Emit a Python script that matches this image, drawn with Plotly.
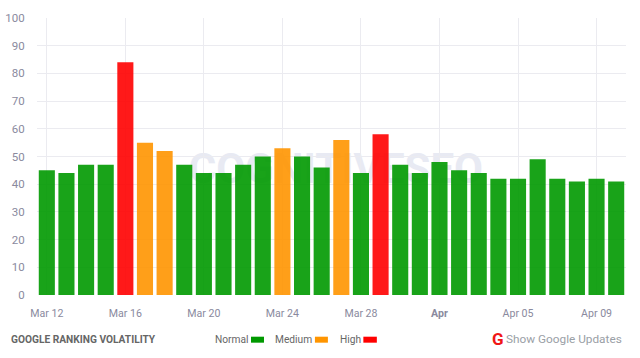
import plotly.graph_objects as go

dates = ["Mar 12","Mar 13","Mar 14","Mar 15","Mar 16","Mar 17","Mar 18","Mar 19","Mar 20","Mar 21",
         "Mar 22","Mar 23","Mar 24","Mar 25","Mar 26","Mar 27","Mar 28","Mar 29","Mar 30","Mar 31",
         "Apr 01","Apr 02","Apr 03","Apr 04","Apr 05","Apr 06","Apr 07","Apr 08","Apr 09","Apr 10"]
values = [45,44,47,47,84,55,52,47,44,44,47,50,53,50,46,56,44,58,47,44,48,45,44,42,42,49,42,41,42,41]
levels = ["N","N","N","N","H","M","M","N","N","N","N","N","M","N","N","M","N","H","N","N",
          "N","N","N","N","N","N","N","N","N","N"]
tick_dates = ["Mar 12","Mar 16","Mar 20","Mar 24","Mar 28","Apr 01","Apr 05","Apr 09"]
tick_labels = ["Mar 12","Mar 16","Mar 20","Mar 24","Mar 28","<b>Apr</b>","Apr 05","Apr 09"]
y_ticks = list(range(0, 101, 10))
palette = {"N": "#009900", "M": "#ff9500", "H": "#ff0000"}

W, H = 640, 358
L, R, T, B = 36.7, 626.5, 17.5, 295.2
FONT = "Roboto"

def px(x): return (x - L) / (R - L)
def py(y): return (B - y) / (B - T)

fig = go.Figure(go.Bar(
    x=dates, y=values,
    marker=dict(color=[palette[l] for l in levels], opacity=0.9, line=dict(width=0)),
    width=0.82, hoverinfo="x+y",
))

annotations = [
    dict(text="<b>GOOGLE RANKING VOLATILITY</b>", x=px(8.5), y=py(339.5), xanchor="left",
         font=dict(family=FONT, size=10.2, color="#666666")),
    dict(text="Normal", x=px(250), y=py(339.5), xanchor="right", font=dict(family=FONT, size=10.2, color="#666666")),
    dict(text="Medium", x=px(314), y=py(339.5), xanchor="right", font=dict(family=FONT, size=10.2, color="#666666")),
    dict(text="High", x=px(363), y=py(339.5), xanchor="right", font=dict(family=FONT, size=10.2, color="#666666")),
    dict(text="<b>G</b>", x=px(498), y=py(339), font=dict(family=FONT, size=17, color="#f01616")),
    dict(text="Show Google Updates", x=px(504.5), y=py(339.5), xanchor="left",
         font=dict(family=FONT, size=11.8, color="#9aa0a6")),
]
for a in annotations:
    a.update(xref="paper", yref="paper", showarrow=False, yanchor="middle")
    a.setdefault("xanchor", "center")

swatches = [(251, 264, "#009900"), (315, 328, "#ff9500"), (363.5, 377, "#ff0000")]
shapes = [dict(type="rect", xref="paper", yref="paper", x0=px(a), x1=px(b), y0=py(343), y1=py(337),
               fillcolor=c, line=dict(width=0), layer="above") for a, b, c in swatches]
shapes.append(dict(type="rect", xref="paper", yref="paper", x0=px(180), x1=px(492), y0=py(188), y1=py(143),
                   fillcolor="rgba(0,0,0,0)", line=dict(width=0), layer="below",
                   label=dict(text="<b>COGNITIVESEO</b>", textposition="middle center",
                              font=dict(family=FONT, size=42, color="#e8eaf3"))))

fig.update_layout(
    width=W, height=H, autosize=False,
    margin=dict(l=L, r=W - R, t=T, b=H - B, autoexpand=False),
    paper_bgcolor="white", plot_bgcolor="white",
    showlegend=False,
    annotations=annotations, shapes=shapes,
    font=dict(family=FONT),
    xaxis=dict(type="category", categoryorder="array", categoryarray=dates,
               tickmode="array", tickvals=tick_dates, ticktext=tick_labels, automargin=False,
               showgrid=True, gridcolor="#ebebf0", gridwidth=1, zeroline=False,
               showline=False, ticks="outside", ticklen=8, tickcolor="rgba(0,0,0,0)",
               tickfont=dict(family=FONT, size=10.6, color="#8a8a9e"), range=[-0.5, 29.5]),
    yaxis=dict(range=[0, 100], tickmode="array", tickvals=y_ticks, automargin=False,
               showgrid=True, gridcolor="#ebebf0", gridwidth=1, zeroline=False,
               showline=False, ticks="outside", ticklen=9, tickcolor="rgba(0,0,0,0)",
               tickfont=dict(family=FONT, size=11.5, color="#8a8a9e")),
)
fig.write_html("out.html", config=dict(displayModeBar=False),
               post_script="document.body.style.margin='0';")
